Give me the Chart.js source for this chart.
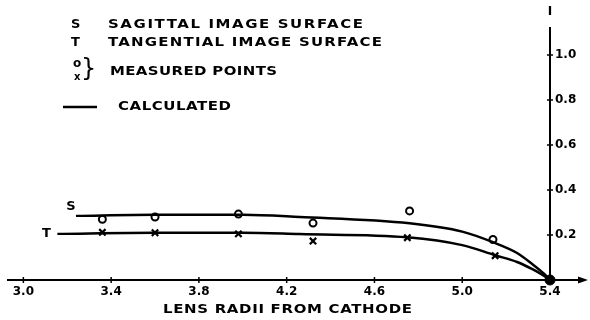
<!DOCTYPE html>
<html>
<head>
<meta charset="utf-8">
<script src="https://cdn.jsdelivr.net/npm/chart.js@4"></script>
<style>
  html, body { margin: 0; padding: 0; background: #fff; }
  #wrap { width: 590px; height: 320px; }
</style>
</head>
<body>
<div id="wrap"><canvas id="chart" width="590" height="320"></canvas></div>
<script>
// axis ticks
var xTicks = [3.0, 3.4, 3.8, 4.2, 4.6, 5.0, 5.4];
var yTicks = [0.2, 0.4, 0.6, 0.8, 1.0];

// measured points
var sagMeasuredX = [3.36, 3.60, 3.98, 4.32, 4.76, 5.14];
var sagMeasuredY = [0.27, 0.28, 0.293, 0.253, 0.307, 0.18];
var tanMeasuredX = [3.36, 3.60, 3.98, 4.32, 4.75, 5.15];
var tanMeasuredY = [0.212, 0.21, 0.205, 0.173, 0.188, 0.108];

// calculated curves
var sagCalcX = [3.24, 3.6, 4.0, 4.26, 4.76, 5.0, 5.14, 5.25, 5.32, 5.37, 5.4];
var sagCalcY = [0.285, 0.29, 0.29, 0.28, 0.252, 0.215, 0.168, 0.12, 0.07, 0.03, 0];
var tanCalcX = [3.155, 3.6, 4.0, 4.26, 4.75, 5.0, 5.15, 5.25, 5.32, 5.37, 5.4];
var tanCalcY = [0.205, 0.21, 0.21, 0.204, 0.19, 0.155, 0.11, 0.08, 0.048, 0.02, 0];

// common focus on the axis
var focusX = [5.4];
var focusY = [0];

var FONT = '"DejaVu Sans", sans-serif';

function pts(xs, ys) {
    var out = [];
    for (var i = 0; i < xs.length; i++) out.push({x: xs[i], y: ys[i]});
    return out;
}

// stencil-style lettering: glyphs widened a little, then spread to the given width
function spreadText(ctx, text, x, y, width, stretch) {
    stretch = stretch || 1.15;
    ctx.save();
    ctx.translate(x, y);
    ctx.scale(stretch, 1);
    ctx.letterSpacing = '0px';
    var natural = ctx.measureText(text).width;
    var gap = (width / stretch - natural) / (text.length - 1);
    ctx.letterSpacing = gap + 'px';
    ctx.fillText(text, 0, 0);
    ctx.restore();
}

var decorations = {
    id: 'decorations',
    afterDraw: function (chart) {
        var ctx = chart.ctx;
        var xs = chart.scales.x, ys = chart.scales.y;
        var area = chart.chartArea;
        var x0 = xs.getPixelForValue(5.4), y0 = ys.getPixelForValue(0);
        ctx.save();
        ctx.strokeStyle = '#000';
        ctx.fillStyle = '#000';
        ctx.lineWidth = 2;

        // x axis runs on past the origin to an arrow
        ctx.beginPath();
        ctx.moveTo(area.right, y0);
        ctx.lineTo(580, y0);
        ctx.stroke();
        ctx.beginPath();
        ctx.moveTo(588, y0);
        ctx.lineTo(578, y0 - 3.5);
        ctx.lineTo(578, y0 + 3.5);
        ctx.closePath();
        ctx.fill();

        // small cross ticks
        ctx.lineWidth = 1.5;
        xTicks.forEach(function (v) {
            var px = xs.getPixelForValue(v);
            ctx.beginPath();
            ctx.moveTo(px, y0 - 3);
            ctx.lineTo(px, y0 + 3);
            ctx.stroke();
        });
        yTicks.forEach(function (v) {
            var py = ys.getPixelForValue(v);
            ctx.beginPath();
            ctx.moveTo(x0 - 3, py);
            ctx.lineTo(x0 + 3, py);
            ctx.stroke();
        });

        // axis names
        ctx.font = 'bold 12px ' + FONT;
        ctx.textAlign = 'center';
        ctx.textBaseline = 'middle';
        ctx.fillText('I', x0, 12);
        ctx.textAlign = 'left';
        ctx.font = 'bold 13px ' + FONT;
        spreadText(ctx, 'LENS RADII FROM CATHODE', 163, 310, 249);

        // curve labels
        ctx.textAlign = 'center';
        ctx.font = 'bold 13px ' + FONT;
        ctx.fillText('S', xs.getPixelForValue(sagCalcX[0]) - 5, ys.getPixelForValue(sagCalcY[0]) - 9);
        ctx.fillText('T', xs.getPixelForValue(tanCalcX[0]) - 11, ys.getPixelForValue(tanCalcY[0]));

        // key
        ctx.textAlign = 'left';
        ctx.font = 'bold 13px ' + FONT;
        ctx.fillText('S', 71, 25);
        ctx.fillText('T', 71, 43);
        spreadText(ctx, 'SAGITTAL IMAGE SURFACE', 108, 25, 255);
        spreadText(ctx, 'TANGENTIAL IMAGE SURFACE', 108, 43, 274);

        ctx.font = 'bold 12px ' + FONT;
        ctx.fillText('o', 73, 64);
        ctx.font = 'bold 10px ' + FONT;
        ctx.fillText('x', 74, 77);
        ctx.font = '24px ' + FONT;
        ctx.fillText('}', 81, 70);
        ctx.font = 'bold 13px ' + FONT;
        spreadText(ctx, 'MEASURED POINTS', 110, 72, 167);

        ctx.lineWidth = 2.5;
        ctx.beginPath();
        ctx.moveTo(63, 107);
        ctx.lineTo(97, 107);
        ctx.stroke();
        spreadText(ctx, 'CALCULATED', 118, 107, 113);

        ctx.restore();
    }
};

window.addEventListener('load', function () {
    var ctx = document.getElementById('chart');

    new Chart(ctx, {
        type: 'scatter',
        data: {
            datasets: [
                {
                    label: 'S calculated',
                    data: pts(sagCalcX, sagCalcY),
                    showLine: true,
                    borderColor: '#000',
                    borderWidth: 2.5,
                    pointRadius: 0,
                    cubicInterpolationMode: 'monotone',
                    clip: false
                },
                {
                    label: 'T calculated',
                    data: pts(tanCalcX, tanCalcY),
                    showLine: true,
                    borderColor: '#000',
                    borderWidth: 2.5,
                    pointRadius: 0,
                    cubicInterpolationMode: 'monotone',
                    clip: false
                },
                {
                    label: 'S measured',
                    data: pts(sagMeasuredX, sagMeasuredY),
                    pointStyle: 'circle',
                    pointRadius: 3.5,
                    borderWidth: 2,
                    borderColor: '#000',
                    backgroundColor: '#fff',
                    clip: false
                },
                {
                    label: 'T measured',
                    data: pts(tanMeasuredX, tanMeasuredY),
                    pointStyle: 'crossRot',
                    pointRadius: 4.5,
                    borderWidth: 2.2,
                    borderColor: '#000',
                    clip: false
                },
                {
                    label: 'focus',
                    data: pts(focusX, focusY),
                    pointRadius: 5,
                    backgroundColor: '#000',
                    borderColor: '#000',
                    clip: false
                }
            ]
        },
        options: {
            responsive: false,
            animation: false,
            events: [],
            layout: { padding: { left: 8, top: 28, right: 0, bottom: 0 } },
            plugins: {
                legend: { display: false },
                tooltip: { enabled: false }
            },
            scales: {
                x: {
                    type: 'linear',
                    min: 2.93,
                    max: 5.4,
                    afterBuildTicks: function (scale) {
                        scale.ticks = xTicks.map(function (v) { return {value: v}; });
                    },
                    afterFit: function (scale) { scale.height = 40; },
                    grid: { display: false, drawTicks: false },
                    border: { display: true, color: '#000', width: 2 },
                    ticks: {
                        color: '#000',
                        padding: 5,
                        maxRotation: 0,
                        font: { family: FONT, size: 12, weight: 'bold' },
                        callback: function (v) { return v.toFixed(1); }
                    }
                },
                y: {
                    type: 'linear',
                    position: 'right',
                    min: 0,
                    max: 1.12,
                    afterBuildTicks: function (scale) {
                        scale.ticks = yTicks.map(function (v) { return {value: v}; });
                    },
                    afterFit: function (scale) { scale.width = 40; },
                    grid: { display: false, drawTicks: false },
                    border: { display: true, color: '#000', width: 2 },
                    ticks: {
                        color: '#000',
                        padding: 5,
                        font: { family: FONT, size: 12, weight: 'bold' },
                        callback: function (v) { return v.toFixed(1); }
                    }
                }
            }
        },
        plugins: [decorations]
    });
});
</script>
</body>
</html>
